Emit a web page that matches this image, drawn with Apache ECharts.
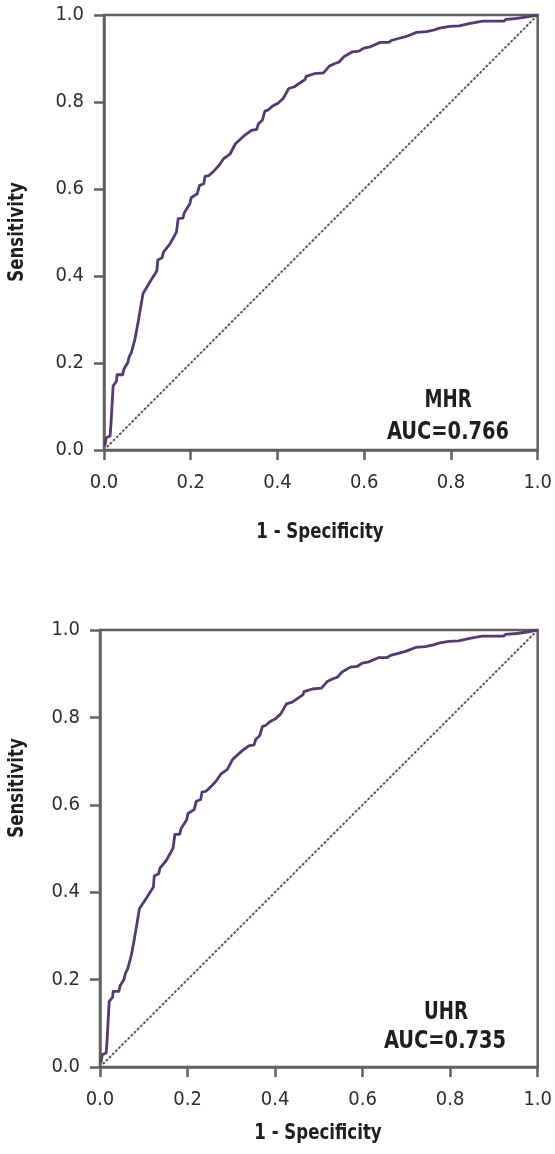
<!DOCTYPE html>
<html>
<head>
<meta charset="utf-8">
<script src="https://cdn.jsdelivr.net/npm/echarts@6/dist/echarts.min.js"></script>
<style>
html,body{margin:0;padding:0;background:#fff;}
#chart{width:555px;height:1154px;}
</style>
</head>
<body>
<div id="chart"></div>
<script>
// ROC curve (both panels show the same curve shape)
const fpr = [0.002,0.005,0.014,0.016,0.020,0.021,0.029,0.030,0.043,0.046,0.055,0.058,0.063,0.071,0.078,0.090,0.094,0.105,0.122,0.124,0.134,0.137,0.151,0.160,0.167,0.171,0.182,0.185,0.198,0.201,0.215,0.220,0.230,0.233,0.242,0.253,0.265,0.276,0.291,0.303,0.325,0.340,0.352,0.356,0.365,0.371,0.379,0.388,0.401,0.413,0.426,0.439,0.455,0.464,0.466,0.485,0.506,0.519,0.531,0.542,0.553,0.572,0.588,0.599,0.614,0.618,0.637,0.656,0.664,0.679,0.698,0.721,0.743,0.762,0.774,0.797,0.819,0.842,0.873,0.922,0.927,0.952,0.979,0.990,1.000];
const tprMHR = [0.010,0.028,0.032,0.058,0.059,0.147,0.159,0.173,0.173,0.186,0.201,0.214,0.224,0.253,0.290,0.360,0.366,0.385,0.412,0.437,0.442,0.455,0.472,0.488,0.501,0.532,0.533,0.545,0.566,0.580,0.589,0.608,0.612,0.629,0.631,0.641,0.654,0.670,0.681,0.704,0.724,0.735,0.737,0.750,0.758,0.779,0.782,0.790,0.797,0.808,0.831,0.835,0.846,0.852,0.859,0.865,0.867,0.882,0.888,0.892,0.904,0.915,0.917,0.924,0.927,0.931,0.937,0.937,0.942,0.946,0.951,0.960,0.962,0.966,0.970,0.974,0.975,0.980,0.986,0.986,0.990,0.992,0.996,0.998,1.000];
const tprUHR = [0.010,0.028,0.032,0.058,0.059,0.150,0.160,0.173,0.173,0.186,0.201,0.214,0.224,0.253,0.290,0.362,0.366,0.385,0.412,0.437,0.442,0.455,0.472,0.488,0.501,0.532,0.533,0.545,0.566,0.580,0.589,0.608,0.612,0.629,0.631,0.641,0.654,0.670,0.681,0.704,0.724,0.735,0.737,0.750,0.758,0.779,0.782,0.790,0.797,0.808,0.831,0.835,0.846,0.852,0.859,0.865,0.867,0.882,0.888,0.892,0.904,0.915,0.917,0.924,0.927,0.931,0.937,0.937,0.942,0.946,0.951,0.960,0.962,0.966,0.970,0.974,0.975,0.980,0.986,0.986,0.990,0.992,0.996,0.998,1.000];
const refLine = [[0,0],[1,1]];
const tickValues = [0, 0.2, 0.4, 0.6, 0.8, 1.0];
const panelNames = ['MHR', 'UHR'];
const aucValues = ['0.766', '0.735'];
const xTitle = '1 - Specificity';
const yTitle = 'Sensitivity';

const FONT = "'Liberation Sans Narrow','DejaVu Sans Condensed','Roboto',sans-serif";
const AXIS_COLOR = '#606163';
const CURVE_COLOR = '#553b6d';

function pairs(xs, ys){ return xs.map((x,i)=>[x, ys[i]]); }

const grids = [
  {left:104, right:14, top:15, bottom:704},
  {left:100, right:17, top:630, bottom:87}
];

function xAxisFor(i){
  return {
    type:'value', gridIndex:i, min:0, max:1, interval:0.2,
    axisLine:{show:true, onZero:false, lineStyle:{color:AXIS_COLOR, width:2.5}},
    axisTick:{show:true, length:10, lineStyle:{color:AXIS_COLOR, width:2.5}},
    splitLine:{show:false},
    axisLabel:{fontFamily:FONT, fontSize:20, color:'#2e2e2e', margin:23,
      formatter:v=>v.toFixed(1)}
  };
}
function yAxisFor(i){
  return {
    type:'value', gridIndex:i, min:0, max:1, interval:0.2,
    axisLine:{show:true, onZero:false, lineStyle:{color:AXIS_COLOR, width:2.5}},
    axisTick:{show:true, length:10, lineStyle:{color:AXIS_COLOR, width:2.5}},
    splitLine:{show:false},
    axisLabel:{fontFamily:FONT, fontSize:20, color:'#2e2e2e', margin:20,
      formatter:v=>v.toFixed(1)}
  };
}

const series = [];
[tprMHR, tprUHR].forEach((tpr, i)=>{
  series.push({type:'line', xAxisIndex:i, yAxisIndex:i, data:refLine, symbol:'none', silent:true,
    lineStyle:{color:'#f2bcc8', width:1.2}, z:1});
  series.push({type:'line', xAxisIndex:i, yAxisIndex:i, data:refLine, symbol:'none', silent:true,
    lineStyle:{color:'#4a4a4a', width:2, type:[2,2.4]}, z:2});
  series.push({type:'line', xAxisIndex:i, yAxisIndex:i, data:pairs(fpr, tpr), symbol:'none', silent:true,
    lineStyle:{color:CURVE_COLOR, width:2.8, join:'round'}, z:3});
});

function txt(text, x, y, size, rot, sx){
  return {type:'text', x:x, y:y, rotation:rot||0, scaleX:sx||0.84,
    style:{text:text, align:'center', verticalAlign:'middle', fontFamily:FONT,
      fontWeight:'bold', fill:'#1e1e1e', fontSize:size}};
}
const graphic = [
  txt(xTitle, 320, 532, 22),
  txt(xTitle, 318, 1133, 22),
  txt(yTitle, 17, 232, 22, Math.PI/2),
  txt(yTitle, 17, 788, 22, Math.PI/2),
  txt(panelNames[0], 448, 401, 24),
  txt('AUC=' + aucValues[0], 448, 433, 24, 0, 0.9),
  txt(panelNames[1], 446, 1013, 24),
  txt('AUC=' + aucValues[1], 445, 1042, 24, 0, 0.9)
];

const chart = echarts.init(document.getElementById('chart'), null, {renderer:'canvas'});
chart.setOption({
  animation:false,
  backgroundColor:'#fff',
  grid: grids.map(g=>Object.assign({show:true, borderColor:AXIS_COLOR, borderWidth:2.5, backgroundColor:'transparent'}, g)),
  xAxis:[xAxisFor(0), xAxisFor(1)],
  yAxis:[yAxisFor(0), yAxisFor(1)],
  series: series,
  graphic: graphic
});
</script>
</body>
</html>
